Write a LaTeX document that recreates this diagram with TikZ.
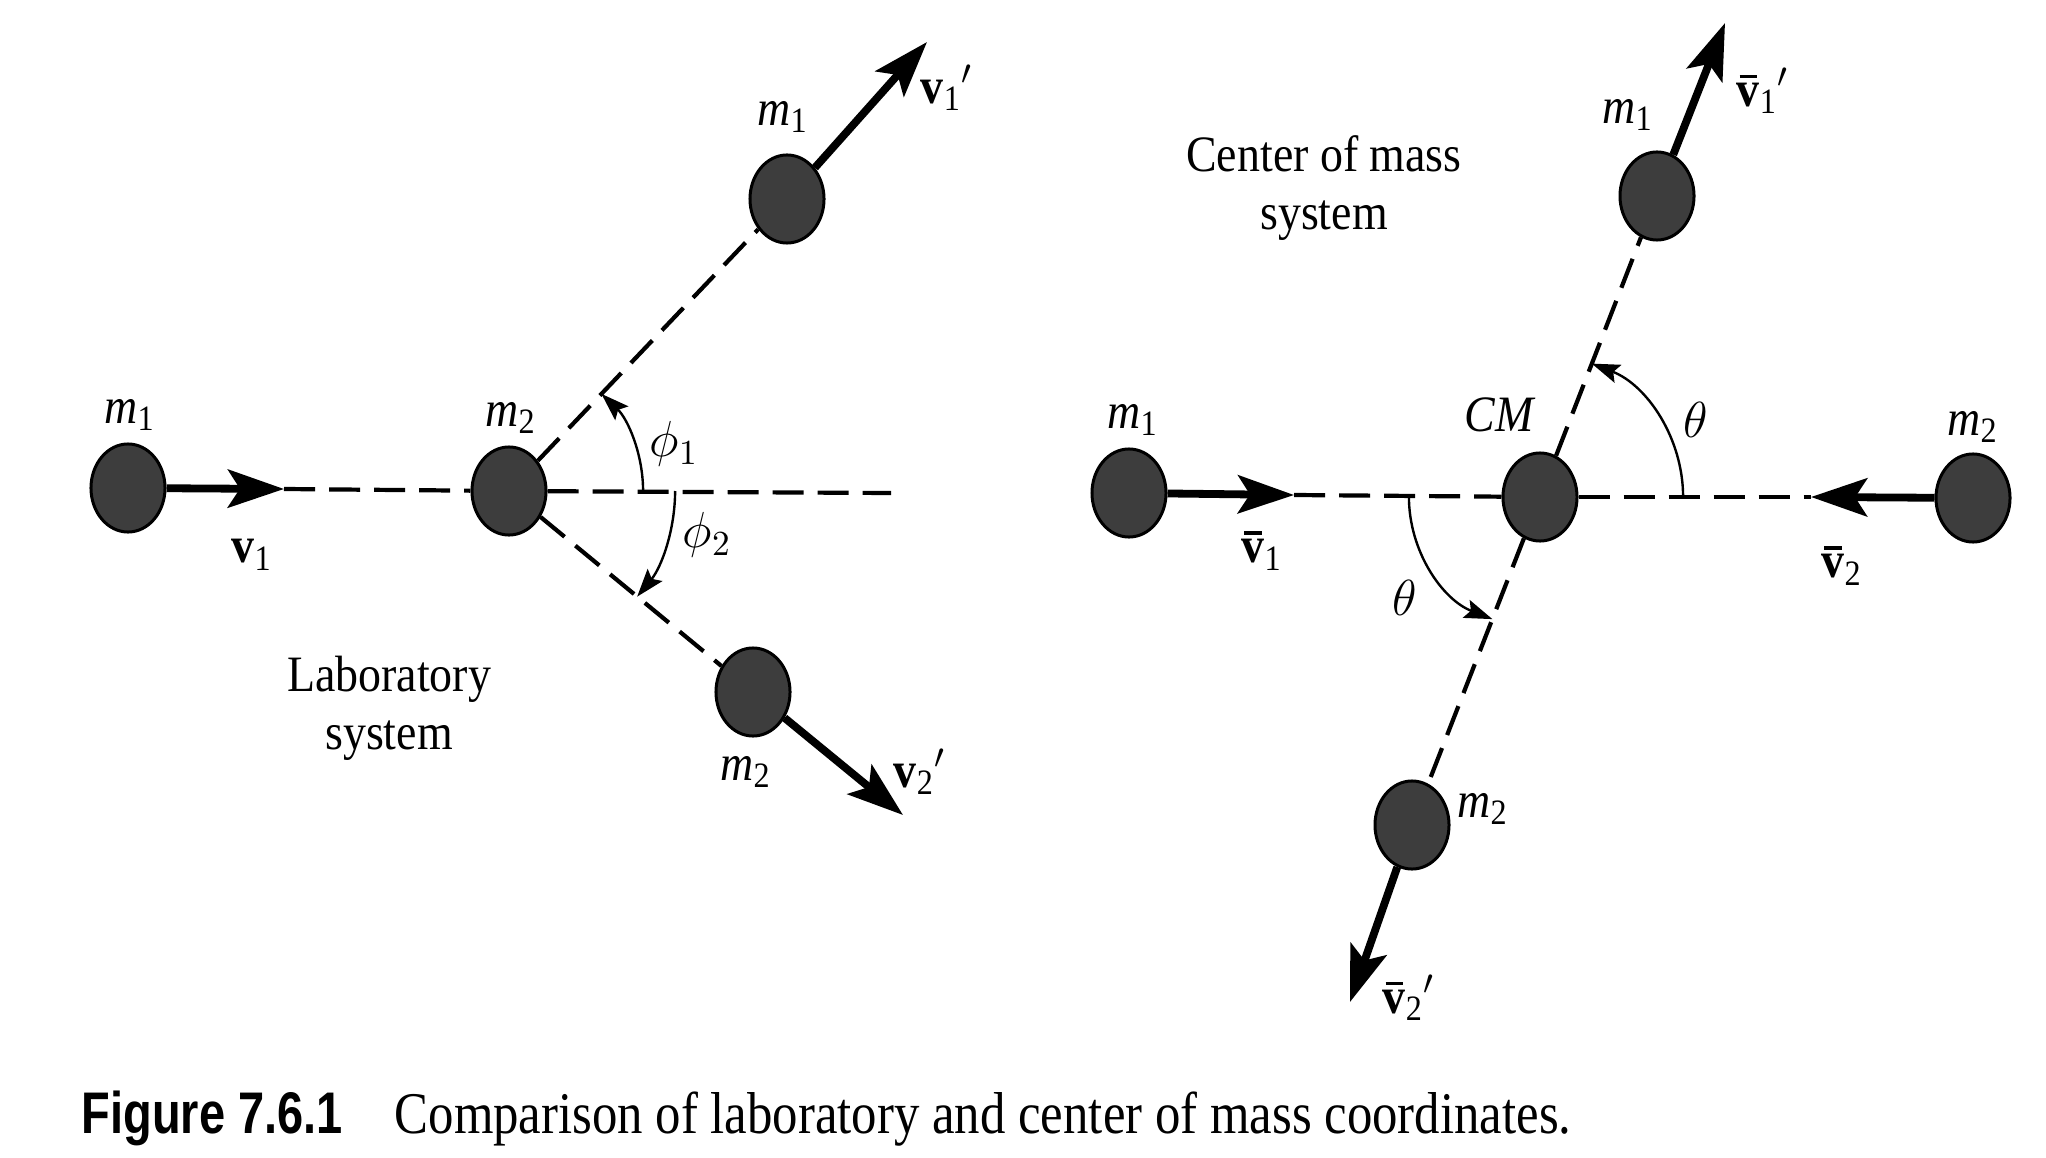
\documentclass[tikz,border=0pt]{standalone}
\usepackage{fontspec}
\setmainfont[FakeStretch=0.9]{Liberation Serif}
\newfontfamily\capserif[FakeStretch=0.86]{Liberation Serif}
\newfontfamily\capsans[FakeStretch=0.8]{Liberation Sans}
\usetikzlibrary{shapes.geometric,arrows.meta,calc}
\tikzset{
  ball/.style={ellipse, draw=black, line width=0.03cm, fill=black!76, minimum width=0.74cm, minimum height=0.88cm, inner sep=0pt},
  vec/.style={line width=0.078cm, -{Stealth[length=0.56cm,width=0.38cm,inset=0.12cm]}},
  dsh/.style={line width=0.042cm, dash pattern=on 0.31cm off 0.14cm},
  angarc/.style={line width=0.024cm, -{Stealth[length=0.28cm,width=0.19cm,inset=0.05cm]}},
  lbl/.style={font=\fontsize{14.5pt}{16.5pt}\selectfont, inner sep=0pt},
  ttl/.style={font=\fontsize{14.5pt}{16.5pt}\selectfont, inner sep=0pt, align=center}
}
\newcommand{\msub}[2]{\textit{#1}\textsubscript{#2}}
\newcommand{\vbarb}{\ooalign{\textbf{v}\cr\hidewidth\raisebox{0.55em}{\rule{0.34em}{0.07em}}\hidewidth\cr}}
\begin{document}
\begin{tikzpicture}[x=0.01cm,y=-0.01cm]
\useasboundingbox (0,0) rectangle (2046,1158);
% ---------- Laboratory system ----------
\node[ball] (Lm1) at (128,488) {};
\node[ball] (Lm2) at (509,491) {};
\node[ball] (Lm1p) at (787,199) {};
\node[ball] (Lm2p) at (753,692) {};
\coordinate (Lv1) at (284,489);
\coordinate (Lend) at (891,493);
\coordinate (Lv1p) at (927,42);
\coordinate (Lv2p) at (903,815);
\draw[vec] (Lm1) -- (Lv1);
\draw[dsh] (Lv1) -- (Lm2);
\draw[dsh] (Lm2) -- (Lend);
\draw[dsh] (Lm2) -- (Lm1p);
\draw[dsh] (Lm2) -- (Lm2p);
\draw[vec] (Lm1p) -- (Lv1p);
\draw[vec] (Lm2p) -- (Lv2p);
\draw[angarc] ($(Lm2.center)+(1.34cm,0)$) arc[start angle=0,end angle=46.4,radius=1.34cm];
\draw[angarc] ($(Lm2.center)+(1.66cm,0)$) arc[start angle=0,end angle=-39.5,radius=1.66cm];
\node[lbl] (tLm1) at (130,415) {\msub{m}{1}};
\node[lbl] (tLv1) at (252,555) {\textbf{v}\textsubscript{1}};
\node[lbl] (tLm2) at (511,418) {\msub{m}{2}};
\node[lbl] (tLm1p) at (783,117) {\msub{m}{1}};
\node[lbl] (tLv1p) at (947,88) {\textbf{v}\textsubscript{1}$'$};
\node[lbl] (tLm2p) at (746,772) {\msub{m}{2}};
\node[lbl] (tLv2p) at (920,772) {\textbf{v}\textsubscript{2}$'$};
\node[lbl] (tphi1) at (674,444) {$\phi_1$};
\node[lbl] (tphi2) at (707,535) {$\phi_2$};
\node[ttl] (tLab) at (389,708) {Laboratory\\system};
% ---------- Center of mass system ----------
\node[ball] (Cm1) at (1129,493) {};
\node[ball] (Ccm) at (1540,497) {};
\node[ball] (Cm2) at (1973,498) {};
\node[ball] (Cm1p) at (1657,196) {};
\node[ball] (Cm2p) at (1412,825) {};
\coordinate (Cv1) at (1294,495);
\coordinate (Cv2) at (1811,497);
\coordinate (Cv1p) at (1725,23);
\coordinate (Cv2p) at (1350,1002);
\draw[vec] (Cm1) -- (Cv1);
\draw[dsh] (Cv1) -- (Ccm);
\draw[dsh] (Ccm) -- (Cv2);
\draw[vec] (Cm2) -- (Cv2);
\draw[dsh] (Ccm) -- (Cm1p);
\draw[dsh] (Ccm) -- (Cm2p);
\draw[vec] (Cm1p) -- (Cv1p);
\draw[vec] (Cm2p) -- (Cv2p);
\draw[angarc] ($(Ccm.center)+(1.43cm,0)$) arc[start angle=0,end angle=68.8,radius=1.43cm];
\draw[angarc] ($(Ccm.center)+(-1.31cm,0)$) arc[start angle=180,end angle=248.7,radius=1.31cm];
\node[lbl] (tCm1) at (1133,420) {\msub{m}{1}};
\node[lbl] (tCv1) at (1262,555) {\vbarb\textsubscript{1}};
\node[lbl] (tCcm) at (1500,415) {\textit{CM}};
\node[lbl] (tCm2) at (1973,427) {\msub{m}{2}};
\node[lbl] (tCv2) at (1842,570) {\vbarb\textsubscript{2}};
\node[lbl] (tCm1p) at (1628,115) {\msub{m}{1}};
\node[lbl] (tCv1p) at (1763,91) {\vbarb\textsubscript{1}$'$};
\node[lbl] (tCm2p) at (1483,809) {\msub{m}{2}};
\node[lbl] (tCv2p) at (1409,998) {\vbarb\textsubscript{2}$'$};
\node[lbl] (tth1) at (1696,420) {$\theta$};
\node[lbl] (tth2) at (1405,598) {$\theta$};
\node[ttl] (tCM) at (1324,188) {Center of mass\\system};
% ---------- Caption ----------
\node[anchor=base west, inner sep=0pt, font=\capsans\bfseries\fontsize{16.7pt}{19pt}\selectfont] (capA) at (81,1133) {Figure 7.6.1};
\node[anchor=base west, inner sep=0pt, font=\capserif\fontsize{16.8pt}{19pt}\selectfont] (capB) at (394,1133) {Comparison of laboratory and center of mass coordinates.};
\end{tikzpicture}
\end{document}
